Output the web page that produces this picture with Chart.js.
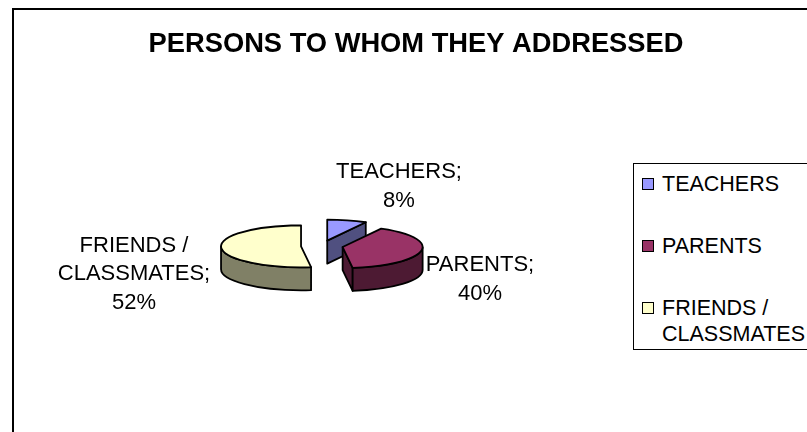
<!DOCTYPE html>
<html>
<head>
<meta charset="utf-8">
<title>Persons to whom they addressed</title>
<script src="https://cdn.jsdelivr.net/npm/chart.js@4"></script>
<style>
  html, body { margin: 0; padding: 0; background: #fff; }
  body { position: relative; width: 807px; height: 432px; overflow: hidden; font-family: "Liberation Sans", Arial, sans-serif; color: #000; }
  #frame { position: absolute; left: 12px; top: 8px; width: 810px; height: 440px; border-left: 2px solid #000; border-top: 2px solid #000; }
  #chart { position: absolute; left: 25px; top: 0; }
  #legend { position: absolute; left: 633px; top: 163px; width: 190px; height: 185px; border: 1.5px solid #000; background: #fff; }
  #legend .sw { position: absolute; left: 8px; width: 10px; height: 10px; border: 1.5px solid #000; }
  #legend .tx { position: absolute; left: 28px; font-size: 21.5px; line-height: 26px; white-space: pre; }
</style>
</head>
<body>
<div id="frame"></div>
<canvas id="chart" width="782" height="432"></canvas>
<div id="legend"></div>
<script>
"use strict";

const title = "PERSONS TO WHOM THEY ADDRESSED";
const categories = ["TEACHERS", "PARENTS", "FRIENDS / CLASSMATES"];
const shares = [8, 40, 52];
const topColors = ["#9999FF", "#993366", "#FFFFCC"];
const wallColors = ["#505080", "#4D1A33", "#808066"];

// pie in fake 3D: squashed vertically, walls drawn under the arcs
const RADIUS = 80;
const SQUASH = 0.2625;
const DEPTH = 23;
const EXPLODE = 21;
const SHIFT_X = -94; // chart area is centred under the title, the pie sits left of it
const OUTLINE = 1.8;
const FONT_LABEL = '22px "Liberation Sans", Arial, sans-serif';

// centre of each data label, canvas coords
const labelAnchors = [[374, 172], [455, 265], [109, 245.5]];
const LABEL_LEAD = 28.5;

const linesFor = (i) => {
  const parts = categories[i].split(" / ");
  const lines = parts.map((p, k) => (k < parts.length - 1 ? p + " /" : p + ";"));
  lines.push(shares[i] + "%");
  return lines;
};

const squashY = (y, cy) => cy + (y - cy) * SQUASH;

const pie3d = {
  id: "pie3d",
  afterDatasetsUpdate(chart) {
    for (const el of chart.getDatasetMeta(0).data) {
      const mid = (el.startAngle + el.endAngle) / 2;
      el.x += SHIFT_X + Math.cos(mid) * EXPLODE;
      el.y += Math.sin(mid) * EXPLODE;
    }
  },
  beforeDatasetsDraw(chart) {
    const { ctx, chartArea } = chart;
    const cy = (chartArea.top + chartArea.bottom) / 2;
    const arcs = chart.getDatasetMeta(0).data;
    ctx.save();
    ctx.strokeStyle = "#000";
    ctx.lineWidth = OUTLINE;
    ctx.lineJoin = "round";
    // back to front: teachers, friends, parents
    for (const i of [0, 2, 1]) {
      const el = arcs[i];
      const X = el.x, Y = squashY(el.y, cy);
      const px = (a) => X + Math.cos(a) * el.outerRadius;
      const py = (a) => Y + Math.sin(a) * el.outerRadius * SQUASH;
      ctx.fillStyle = wallColors[i];
      // cut faces turned to the viewer
      for (const [a, normal] of [[el.startAngle, el.startAngle - Math.PI / 2], [el.endAngle, el.endAngle + Math.PI / 2]]) {
        if (Math.sin(normal) <= 0.001) continue;
        ctx.beginPath();
        ctx.moveTo(X, Y);
        ctx.lineTo(px(a), py(a));
        ctx.lineTo(px(a), py(a) + DEPTH);
        ctx.lineTo(X, Y + DEPTH);
        ctx.closePath();
        ctx.fill();
        ctx.stroke();
      }
      // outer wall, only the lower half of the ellipse shows
      const from = Math.max(el.startAngle, 0);
      const to = Math.min(el.endAngle, Math.PI);
      if (to > from) {
        ctx.beginPath();
        ctx.ellipse(X, Y, el.outerRadius, el.outerRadius * SQUASH, 0, from, to);
        ctx.ellipse(X, Y + DEPTH, el.outerRadius, el.outerRadius * SQUASH, 0, to, from, true);
        ctx.closePath();
        ctx.fill();
        ctx.stroke();
      }
    }
    ctx.restore();
    // the arcs themselves are drawn by Chart.js under this transform
    ctx.save();
    ctx.translate(0, cy);
    ctx.scale(1, SQUASH);
    ctx.translate(0, -cy);
  },
  afterDatasetsDraw(chart) {
    const { ctx, chartArea } = chart;
    ctx.restore();
    const cy = (chartArea.top + chartArea.bottom) / 2;
    ctx.save();
    ctx.strokeStyle = "#000";
    ctx.lineWidth = OUTLINE;
    ctx.lineJoin = "round";
    for (const el of chart.getDatasetMeta(0).data) {
      const X = el.x, Y = squashY(el.y, cy);
      ctx.beginPath();
      ctx.moveTo(X, Y);
      ctx.ellipse(X, Y, el.outerRadius, el.outerRadius * SQUASH, 0, el.startAngle, el.endAngle);
      ctx.closePath();
      ctx.stroke();
    }
    // data labels
    ctx.fillStyle = "#000";
    ctx.font = FONT_LABEL;
    ctx.textAlign = "center";
    ctx.textBaseline = "middle";
    labelAnchors.forEach(([x, y], i) => {
      linesFor(i).forEach((line, k) => ctx.fillText(line, x, y + k * LABEL_LEAD));
    });
    ctx.restore();
  },
};

new Chart(document.getElementById("chart"), {
  type: "pie",
  data: {
    labels: categories,
    datasets: [{
      data: shares,
      backgroundColor: topColors,
      borderWidth: 0,
      radius: RADIUS,
      clip: false,
    }],
  },
  options: {
    responsive: false,
    animation: false,
    events: [],
    plugins: {
      legend: { display: false },
      tooltip: { enabled: false },
      title: {
        display: true,
        text: title,
        color: "#000",
        font: { family: '"Liberation Sans", Arial, sans-serif', size: 27.3, weight: "bold", lineHeight: 1 },
        padding: { top: 31, bottom: 1.7 },
      },
    },
  },
  plugins: [pie3d],
});

// legend: Excel-style box running off the right edge, second line for the long name
const legend = document.getElementById("legend");
const legendRows = [20, 82, 144];
categories.forEach((name, i) => {
  const sw = document.createElement("div");
  sw.className = "sw";
  sw.style.top = legendRows[i] - 6 + "px";
  sw.style.background = topColors[i];
  const tx = document.createElement("div");
  tx.className = "tx";
  tx.style.top = legendRows[i] - 13 + "px";
  tx.textContent = name.replace(" / ", " /\n");
  legend.append(sw, tx);
});
</script>
</body>
</html>
